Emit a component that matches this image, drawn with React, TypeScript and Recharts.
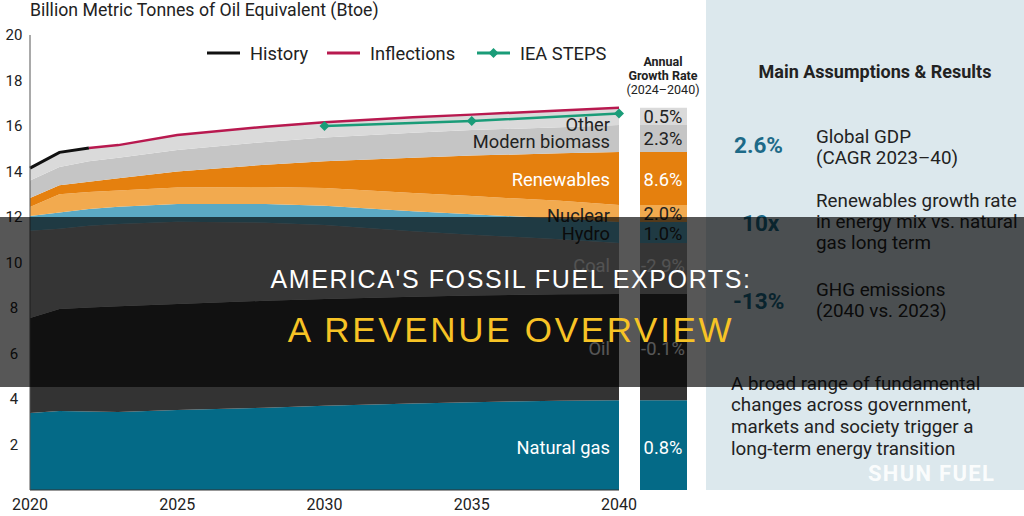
import React from "react";
import { ComposedChart, Area, Line, XAxis, YAxis, BarChart, Bar } from "recharts";

// Primary energy demand, Btoe, by source (stacked bottom to top)
const years = [2020, 2021, 2022, 2023, 2025, 2028, 2030, 2033, 2035, 2038, 2040];
const naturalGas = [3.38, 3.47, 3.45, 3.43, 3.52, 3.62, 3.7, 3.8, 3.86, 3.92, 3.95];
const oil = [4.18, 4.49, 4.57, 4.65, 4.66, 4.7, 4.7, 4.7, 4.69, 4.68, 4.67];
const coal = [3.84, 3.52, 3.59, 3.61, 3.61, 3.43, 3.25, 2.87, 2.67, 2.42, 2.24];
const hydro = [0.64, 0.72, 0.74, 0.76, 0.78, 0.82, 0.85, 0.88, 0.9, 0.91, 0.92];
const nuclear = [0.4, 0.8, 0.75, 0.72, 0.73, 0.75, 0.77, 0.8, 0.8, 0.78, 0.75];
const renewables = [0.4, 0.4, 0.45, 0.53, 0.7, 0.98, 1.18, 1.55, 1.78, 2.09, 2.33];
const modernBiomass = [0.76, 0.8, 0.9, 0.9, 0.95, 1.0, 1.05, 1.1, 1.12, 1.15, 1.18];
const other = [0.55, 0.64, 0.58, 0.56, 0.65, 0.67, 0.67, 0.68, 0.68, 0.73, 0.76];

// Totals: history up to 2022, then the Inflections outlook; IEA STEPS for comparison
const history = [14.15, 14.84, 15.03, null, null, null, null, null, null, null, null];
const inflections = [null, null, 15.03, 15.16, 15.6, 15.97, 16.17, 16.38, 16.5, 16.68, 16.8];
const ieaSteps = [null, null, null, null, null, null, 16.0, null, 16.22, null, 16.55];

const yTicks = [2, 4, 6, 8, 10, 12, 14, 16, 18, 20];
const xTicks = [2020, 2025, 2030, 2035, 2040];

// Annual growth rate 2024-2040, same order as the layers
const sourceNames = ["Natural gas", "Oil", "Coal", "Hydro", "Nuclear", "Renewables", "Modern biomass", "Other"];
const growthRates = ["0.8%", "-0.1%", "-2.9%", "1.0%", "2.0%", "8.6%", "2.3%", "0.5%"];

const layers = [
  { key: "naturalGas", values: naturalGas, color: "#046a87", text: "#ffffff", y: 447 },
  { key: "oil", values: oil, color: "#333333", text: "#ffffff", y: 348 },
  { key: "coal", values: coal, color: "#9c9c9c", text: "#f2f2f2", y: 265 },
  { key: "hydro", values: hydro, color: "#5ba9c4", text: "#222222", y: 233 },
  { key: "nuclear", values: nuclear, color: "#f2aa4f", text: "#222222", y: 215 },
  { key: "renewables", values: renewables, color: "#e5800e", text: "#ffffff", y: 179 },
  { key: "modernBiomass", values: modernBiomass, color: "#c5c5c5", text: "#222222", y: 141 },
  { key: "other", values: other, color: "#dadada", text: "#222222", y: 124 },
];
const rateY = [447, 348, 265, 233, 213, 179, 138, 116];

const rows = years.map((year, i) => {
  const row: Record<string, number | null> = { year };
  layers.forEach((l) => (row[l.key] = l.values[i]));
  row.history = history[i];
  row.inflections = inflections[i];
  row.ieaSteps = ieaSteps[i];
  return row;
});

const last = years.length - 1;
const column = [
  layers.reduce((acc, l) => ({ ...acc, [l.key]: l.values[last] }), { name: "2040" } as Record<string, any>),
];

const FONT = "Roboto, 'Noto Sans', sans-serif";

function Diamond(props: any) {
  const { cx, cy, value } = props;
  if (value == null || cx == null || cy == null) return null;
  const r = 5;
  return (
    <path
      d={`M${cx},${cy - r} L${cx + r},${cy} L${cx},${cy + r} L${cx - r},${cy} Z`}
      fill="#1a9c78"
    />
  );
}

function YTick(props: any) {
  const { y, payload } = props;
  return (
    <text x={14} y={y} textAnchor="middle" dominantBaseline="central" fontSize={15} fill="#222" fontFamily={FONT}>
      {payload.value}
    </text>
  );
}

function XTick(props: any) {
  const { x, y, payload } = props;
  return (
    <text x={x} y={y + 6} textAnchor="middle" dominantBaseline="central" fontSize={16} fill="#222" fontFamily={FONT}>
      {payload.value}
    </text>
  );
}

const legendItems = [
  { name: "History", color: "#111111", x: 207, marker: false },
  { name: "Inflections", color: "#b8194f", x: 327, marker: false },
  { name: "IEA STEPS", color: "#1a9c78", x: 477, marker: true },
];

export default function App() {
  return (
    <div
      style={{
        position: "absolute",
        left: 0,
        top: 0,
        width: 1024,
        height: 516,
        overflow: "hidden",
        background: "#ffffff",
        fontFamily: FONT,
      }}
    >
      <div style={{ position: "absolute", left: 706, top: 0, width: 318, height: 490, background: "#dce8ed" }} />

      <div style={{ position: "absolute", left: 0, top: 0 }}>
        <ComposedChart width={640} height={516} data={rows} margin={{ top: 35, right: 21, bottom: 0, left: 0 }}>
          <XAxis
            dataKey="year"
            type="number"
            domain={[2020, 2040]}
            ticks={xTicks}
            height={26}
            tickLine={false}
            axisLine={{ stroke: "#333" }}
            tick={<XTick />}
          />
          <YAxis
            width={30}
            domain={[0, 20]}
            ticks={yTicks}
            tickLine={false}
            axisLine={{ stroke: "#555" }}
            tick={<YTick />}
          />
          {layers.map((l) => (
            <Area
              key={l.key}
              type="linear"
              dataKey={l.key}
              stackId="energy"
              fill={l.color}
              fillOpacity={1}
              stroke="none"
              activeDot={false}
              isAnimationActive={false}
            />
          ))}
          <Line type="linear" dataKey="history" stroke="#111111" strokeWidth={3} dot={false} isAnimationActive={false} />
          <Line type="linear" dataKey="inflections" stroke="#b8194f" strokeWidth={2.5} dot={false} isAnimationActive={false} />
          <Line
            type="linear"
            dataKey="ieaSteps"
            stroke="#1a9c78"
            strokeWidth={2.5}
            connectNulls
            dot={<Diamond />}
            activeDot={false}
            isAnimationActive={false}
          />
        </ComposedChart>
      </div>

      <div style={{ position: "absolute", left: 640, top: 0 }}>
        <BarChart width={47} height={516} data={column} margin={{ top: 35, right: 0, bottom: 26, left: 0 }} barCategoryGap={0}>
          <XAxis dataKey="name" hide />
          <YAxis domain={[0, 20]} hide />
          {layers.map((l) => (
            <Bar key={l.key} dataKey={l.key} stackId="col" fill={l.color} isAnimationActive={false} />
          ))}
        </BarChart>
      </div>

      <svg width={1024} height={516} style={{ position: "absolute", left: 0, top: 0 }} fontFamily={FONT}>
        <text x={30} y={16} fontSize={17.7} fill="#222">
          Billion Metric Tonnes of Oil Equivalent (Btoe)
        </text>

        {legendItems.map((it) => (
          <g key={it.name}>
            <line x1={it.x} x2={it.x + 33} y1={53} y2={53} stroke={it.color} strokeWidth={3} />
            {it.marker && (
              <path d={`M${it.x + 16.5},48 L${it.x + 21.5},53 L${it.x + 16.5},58 L${it.x + 11.5},53 Z`} fill={it.color} />
            )}
            <text x={it.x + 43} y={53} fontSize={18.3} fill="#222" dominantBaseline="central">
              {it.name}
            </text>
          </g>
        ))}

        <g fontSize={12.5} fill="#222" textAnchor="middle">
          <text x={663} y={61} fontWeight={700} dominantBaseline="central">Annual</text>
          <text x={663} y={75} fontWeight={700} dominantBaseline="central">Growth Rate</text>
          <text x={663} y={89} dominantBaseline="central">(2024–2040)</text>
        </g>

        {layers.map((l, i) => (
          <g key={l.key} fontSize={18.3} fill={l.text}>
            <text x={610} y={l.y} textAnchor="end" dominantBaseline="central">
              {sourceNames[i]}
            </text>
            <text x={663} y={rateY[i]} textAnchor="middle" dominantBaseline="central">
              {growthRates[i]}
            </text>
          </g>
        ))}

        <text x={875} y={71} fontSize={18} fontWeight={700} fill="#222" textAnchor="middle" dominantBaseline="central">
          Main Assumptions &amp; Results
        </text>
        <g fontSize={22.5} fontWeight={700} fill="#1d6a88">
          <text x={734} y={145} dominantBaseline="central">2.6%</text>
          <text x={742} y={223} dominantBaseline="central">10x</text>
          <text x={733} y={301} dominantBaseline="central">-13%</text>
        </g>
        <g fontSize={18.8} fill="#222">
          <text x={816} y={137} dominantBaseline="central">Global GDP</text>
          <text x={816} y={158} dominantBaseline="central">(CAGR 2023–40)</text>
          <text x={816} y={201} dominantBaseline="central">Renewables growth rate</text>
          <text x={816} y={222} dominantBaseline="central">in energy mix vs. natural</text>
          <text x={816} y={243} dominantBaseline="central">gas long term</text>
          <text x={816} y={290} dominantBaseline="central">GHG emissions</text>
          <text x={816} y={311} dominantBaseline="central">(2040 vs. 2023)</text>
          <text x={731} y={384} dominantBaseline="central">A broad range of fundamental</text>
          <text x={731} y={405} dominantBaseline="central">changes across government,</text>
          <text x={731} y={427} dominantBaseline="central">markets and society trigger a</text>
          <text x={731} y={449} dominantBaseline="central">long-term energy transition</text>
        </g>
        <text x={868} y={473} fontSize={22} fontWeight={700} fill="#ffffff" fillOpacity={0.9} letterSpacing={1.3} dominantBaseline="central">
          SHUN FUEL
        </text>

        <rect x={0} y={217} width={1024} height={170} fill="#000000" fillOpacity={0.66} />
        <g fontFamily="'Liberation Sans', Arial, sans-serif" textAnchor="middle">
          <text x={511} y={288} fontSize={25} fill="#ffffff" letterSpacing={1.6}>
            AMERICA'S FOSSIL FUEL EXPORTS:
          </text>
          <text x={511} y={342} fontSize={35} fill="#f7c325" letterSpacing={2.7}>
            A REVENUE OVERVIEW
          </text>
        </g>
      </svg>
    </div>
  );
}
